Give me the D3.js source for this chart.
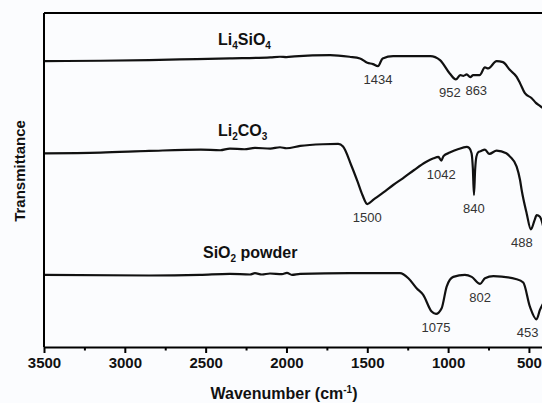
<!DOCTYPE html>
<html>
<head>
<meta charset="utf-8">
<script src="https://cdn.jsdelivr.net/npm/d3@7"></script>
<style>
  html, body { margin: 0; padding: 0; background: #fbfcfe; }
  svg { display: block; }
  text { font-family: "Liberation Sans", Arial, sans-serif; }
</style>
</head>
<body>
<svg id="chart" width="542" height="403"></svg>
<script>
// FTIR spectra: wavenumber (cm-1) and transmittance (a.u., curves stacked)
const li4sio4Wn = [3500, 3150, 2850, 2660, 2350, 2100, 2040, 2000, 1950, 1730, 1610, 1545, 1500, 1465, 1434, 1405, 1340, 1110, 1050, 990, 952, 925, 905, 885, 863, 845, 805, 772, 752, 700, 661, 617, 576, 555, 525, 483, 457, 432, 400];
const li4sio4T  = [85.6, 85.7, 85.9, 86.1, 86.4, 86.7, 86.9, 86.8, 87.0, 87.4, 86.9, 86.4, 85.1, 84.7, 84.1, 86.4, 87.1, 87.1, 85.9, 81.9, 80.1, 81.4, 81.2, 81.6, 80.8, 81.4, 81.4, 83.7, 83.4, 85.6, 85.3, 82.9, 80.9, 79.0, 76.0, 74.5, 73.1, 72.2, 71.0];

const li2co3Wn = [3500, 3150, 2850, 2530, 2410, 2350, 2260, 2195, 2100, 2040, 2000, 1915, 1775, 1680, 1650, 1600, 1560, 1530, 1500, 1460, 1400, 1340, 1280, 1210, 1140, 1090, 1060, 1042, 1028, 990, 940, 885, 870, 855, 847, 840, 833, 825, 812, 800, 772, 745, 700, 640, 617, 576, 555, 545, 514, 488, 465, 452, 432, 400];
const li2co3T  = [58.0, 58.2, 58.7, 59.1, 58.9, 59.4, 59.2, 59.6, 59.4, 59.8, 59.5, 60.2, 60.7, 60.8, 60.0, 54.5, 49.5, 45.5, 42.8, 44.2, 46.3, 48.5, 50.5, 53.0, 55.3, 56.5, 56.9, 55.8, 57.2, 58.2, 59.2, 59.9, 59.6, 58.0, 53.5, 45.5, 53.0, 57.0, 58.4, 58.6, 59.1, 57.8, 58.8, 58.0, 57.0, 54.0, 50.0, 47.0, 40.0, 35.2, 38.0, 39.5, 39.0, 33.5];

const sio2Wn = [3500, 2850, 2535, 2350, 2226, 2195, 2152, 2102, 2028, 1997, 1966, 1916, 1607, 1298, 1246, 1195, 1154, 1102, 1075, 1040, 1009, 968, 896, 854, 802, 772, 720, 576, 535, 494, 453, 432, 400];
const sio2T  = [21.6, 21.4, 21.6, 21.9, 21.7, 22.1, 21.7, 22.0, 21.8, 22.2, 21.6, 21.9, 22.1, 22.1, 20.6, 17.6, 15.6, 10.6, 9.9, 11.6, 18.1, 21.0, 21.6, 21.0, 18.9, 20.6, 21.2, 20.3, 19.3, 12.1, 8.3, 11.1, 14.1];

// annotated band positions
const li4sio4Peaks = [1434, 952, 863];
const li2co3Peaks  = [1500, 1042, 840, 488];
const sio2Peaks    = [1075, 802, 453];

const xTicks = [3500, 3000, 2500, 2000, 1500, 1000, 500];
const xMinorTicks = [3250, 2750, 2250, 1750, 1250, 750];

const seriesNames = [
  [["Li", 0], ["4", 1], ["SiO", 0], ["4", 1]],
  [["Li", 0], ["2", 1], ["CO", 0], ["3", 1]],
  [["SiO", 0], ["2", 1], [" powder", 0]]
];

// ---- layout ----
const svg = d3.select("#chart");
const margin = { left: 44, top: 13, bottom: 347 };
const x = d3.scaleLinear().domain([3500, 400]).range([margin.left, 545.1]);
const y = d3.scaleLinear().domain([0, 100]).range([margin.bottom, margin.top]);

const series = [
  { wn: li4sio4Wn, t: li4sio4T, peaks: li4sio4Peaks },
  { wn: li2co3Wn, t: li2co3T, peaks: li2co3Peaks },
  { wn: sio2Wn, t: sio2T, peaks: sio2Peaks }
];

const line = d3.line()
  .x(d => x(d[0]))
  .y(d => y(d[1]))
  .curve(d3.curveMonotoneX);

const plot = svg.append("g");

series.forEach(s => {
  plot.append("path")
    .datum(d3.zip(s.wn, s.t))
    .attr("fill", "none")
    .attr("stroke", "#111")
    .attr("stroke-width", 2.2)
    .attr("stroke-linejoin", "round")
    .attr("d", line);
});

// band labels under each minimum
const labelNudge = { 952: -6, 863: 6, 488: -9, 453: -9 };
series.forEach(s => {
  s.peaks.forEach(p => {
    const i = s.wn.indexOf(p);
    plot.append("text")
      .attr("x", x(p) + (labelNudge[p] || 0))
      .attr("y", y(s.t[i]) + 18)
      .attr("text-anchor", "middle")
      .attr("font-size", 13)
      .attr("fill", "#333")
      .text(p);
  });
});

// series names with subscripts
const namePos = [[218, 45], [218, 136], [203, 258]];
seriesNames.forEach((parts, k) => {
  const t = svg.append("text")
    .attr("x", namePos[k][0])
    .attr("y", namePos[k][1])
    .attr("font-size", 16)
    .attr("font-weight", "bold")
    .attr("fill", "#111");
  let sub = false;
  parts.forEach(([txt, isSub]) => {
    const ts = t.append("tspan").text(txt);
    if (isSub && !sub) { ts.attr("dy", 4).attr("font-size", 10); sub = true; }
    else if (isSub) { ts.attr("font-size", 10); }
    else if (sub) { ts.attr("dy", -4); sub = false; }
  });
});

// frame: left axis and top border
svg.append("line")
  .attr("x1", margin.left).attr("x2", margin.left)
  .attr("y1", margin.top).attr("y2", margin.bottom)
  .attr("stroke", "#000").attr("stroke-width", 2);
svg.append("line")
  .attr("x1", margin.left).attr("x2", 560)
  .attr("y1", margin.top).attr("y2", margin.top)
  .attr("stroke", "#000").attr("stroke-width", 2);

// bottom axis
const xAxis = d3.axisBottom(x)
  .tickValues(xTicks)
  .tickSize(6)
  .tickSizeOuter(0)
  .tickPadding(4)
  .tickFormat(d3.format("d"));

const gx = svg.append("g")
  .attr("transform", `translate(0,${margin.bottom})`)
  .call(xAxis);
gx.select(".domain").attr("stroke", "#000").attr("stroke-width", 2);
gx.selectAll(".tick line").attr("stroke", "#000").attr("stroke-width", 2);
gx.selectAll(".tick text")
  .attr("font-family", "Liberation Sans, Arial, sans-serif")
  .attr("font-size", 15)
  .attr("font-weight", "bold")
  .attr("fill", "#111");

const gxm = svg.append("g")
  .attr("transform", `translate(0,${margin.bottom})`)
  .call(d3.axisBottom(x).tickValues(xMinorTicks).tickSize(3.5).tickFormat(""));
gxm.select(".domain").remove();
gxm.selectAll(".tick line").attr("stroke", "#000").attr("stroke-width", 2);

// axis titles
const xt = svg.append("text")
  .attr("x", 284)
  .attr("y", 399)
  .attr("text-anchor", "middle")
  .attr("font-size", 16)
  .attr("font-weight", "bold")
  .attr("fill", "#111");
xt.append("tspan").text("Wavenumber (cm");
xt.append("tspan").attr("dy", -6).attr("font-size", 10).text("-1");
xt.append("tspan").attr("dy", 6).text(")");

svg.append("text")
  .attr("transform", "translate(25,171) rotate(-90)")
  .attr("text-anchor", "middle")
  .attr("font-size", 15)
  .attr("font-weight", "bold")
  .attr("fill", "#111")
  .text("Transmittance");
</script>
</body>
</html>
